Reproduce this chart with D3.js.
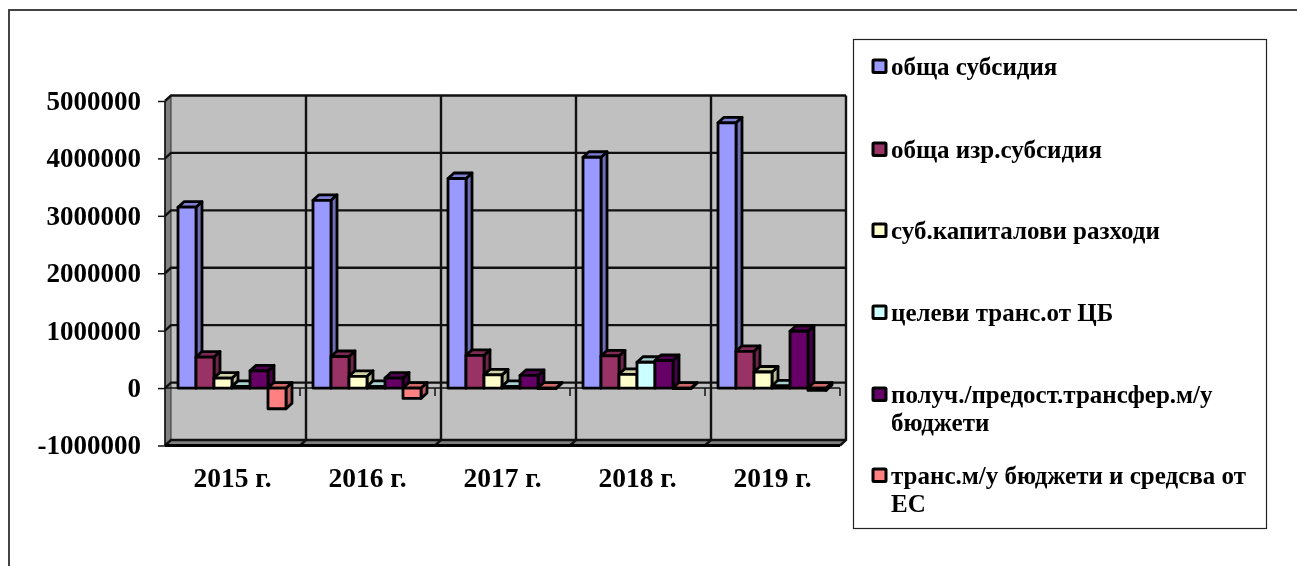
<!DOCTYPE html>
<html>
<head>
<meta charset="utf-8">
<script src="https://cdn.jsdelivr.net/npm/d3@7"></script>
<style>
  html, body { margin: 0; padding: 0; background: #fff; overflow: hidden; }
  text { font-family: "Liberation Serif", serif; font-weight: bold; fill: #000; }
  svg { filter: blur(0.35px); }
</style>
</head>
<body>
<script>
const years = ['2015 г.', '2016 г.', '2017 г.', '2018 г.', '2019 г.'];
const seriesNames = [
    ['обща субсидия'],
    ['обща изр.субсидия'],
    ['суб.капиталови разходи'],
    ['целеви транс.от ЦБ'],
    ['получ./предост.трансфер.м/у', 'бюджети'],
    ['транс.м/у бюджети и средсва от', 'ЕС']
];
const colors = ['#9999ff', '#993366', '#ffffcc', '#ccffff', '#660066', '#ff8080'];
const obshta = [3150000, 3270000, 3650000, 4020000, 4620000];
const izr = [540000, 550000, 570000, 560000, 640000];
const kapital = [175000, 205000, 230000, 240000, 280000];
const celevi = [30000, 30000, 30000, 450000, 40000];
const transfer = [300000, 175000, 220000, 480000, 990000];
const es = [-360000, -180000, -10000, -10000, -40000];
const allValues = [obshta, izr, kapital, celevi, transfer, es];
const yTicks = [-1000000, 0, 1000000, 2000000, 3000000, 4000000, 5000000];

const svg = d3.select('body').append('svg')
    .attr('width', 1297)
    .attr('height', 566)
    .style('display', 'block');

// outer chart frame
svg.append('path')
    .attr('d', 'M9,566V10H1297')
    .attr('fill', 'none')
    .attr('stroke', '#444')
    .attr('stroke-width', 2);

const dx = 6, dy = -5.5;   // depth of the 3d box

const x = d3.scaleBand().domain(years).range([165, 840]);
const y = d3.scaleLinear().domain([-1000000, 5000000]).range([445.5, 101]);
const inner = d3.scaleBand().domain(d3.range(6)).range([13, 121]);

const left = x.range()[0], right = x.range()[1];
const top5 = y(5000000), bottom = y(-1000000), zero = y(0);

// back wall
svg.append('rect')
    .attr('x', left + dx).attr('y', top5 + dy)
    .attr('width', right - left).attr('height', bottom - top5)
    .attr('fill', '#c0c0c0');
// side wall and floor
svg.append('polygon')
    .attr('points', [[left, top5], [left + dx, top5 + dy], [left + dx, bottom + dy], [left, bottom]].join(' '))
    .attr('fill', '#808080').attr('stroke', '#333').attr('stroke-width', 1);
svg.append('polygon')
    .attr('points', [[left, bottom], [left + dx, bottom + dy], [right + dx, bottom + dy], [right, bottom]].join(' '))
    .attr('fill', '#808080');

// horizontal gridlines on the back wall, with the piece on the side wall
const grid = svg.append('g').attr('stroke', '#111').attr('stroke-width', 2.4).attr('fill', 'none');
yTicks.forEach(t => {
    grid.append('path')
        .attr('d', `M${left},${y(t)}L${left + dx},${y(t) + dy}H${right + dx}`);
});
// vertical gridlines
x.domain().forEach((d, i) => {
    const gx = x(d) + x.bandwidth() + dx;
    grid.append('path')
        .attr('d', `M${gx},${top5 + dy}V${bottom + dy}L${gx - dx},${bottom}`);
});

// zero plane front edge and axis lines
svg.append('path')
    .attr('d', `M${left},${zero}H${right}`)
    .attr('stroke', '#111').attr('stroke-width', 1.5);
svg.append('path')
    .attr('d', `M${left},${bottom}H${right}`)
    .attr('stroke', '#000').attr('stroke-width', 3);
svg.append('path')
    .attr('d', `M${left},${top5}V${bottom}`)
    .attr('stroke', '#111').attr('stroke-width', 1.5);

// ticks on the zero line
years.forEach(d => {
    svg.append('line')
        .attr('x1', x(d) + x.bandwidth()).attr('x2', x(d) + x.bandwidth())
        .attr('y1', zero).attr('y2', zero + 8)
        .attr('stroke', '#111').attr('stroke-width', 1.5);
});

// y axis
const yAxis = svg.append('g')
    .attr('transform', `translate(${left},0)`)
    .call(d3.axisLeft(y).tickValues(yTicks).tickFormat(d => String(d)).tickSize(7).tickPadding(17));
yAxis.select('.domain').remove();
yAxis.selectAll('line').attr('stroke', '#111').attr('stroke-width', 1.5);
yAxis.selectAll('text').style('font-size', '27px').attr('fill', '#000').attr('dy', '0.31em');

// bars, left to right so the neighbours overlap like in the 3d view
years.forEach((yr, i) => {
    allValues.forEach((vals, s) => {
        const v = vals[i];
        const x0 = x(yr) + inner(s);
        const w = inner.bandwidth();
        const yTop = y(Math.max(v, 0));
        const yBot = y(Math.min(v, 0));
        const c = d3.color(colors[s]);
        const g = svg.append('g')
            .attr('stroke', '#000').attr('stroke-width', 2.8).attr('stroke-linejoin', 'round');
        // side face
        g.append('polygon')
            .attr('points', [[x0 + w, yTop], [x0 + w + dx, yTop + dy], [x0 + w + dx, yBot + dy], [x0 + w, yBot]].join(' '))
            .attr('fill', c.darker(0.9));
        // top face
        g.append('polygon')
            .attr('points', [[x0, yTop], [x0 + dx, yTop + dy], [x0 + w + dx, yTop + dy], [x0 + w, yTop]].join(' '))
            .attr('fill', c.darker(0.55));
        // front face
        g.append('rect')
            .attr('x', x0).attr('y', yTop)
            .attr('width', w).attr('height', yBot - yTop)
            .attr('fill', colors[s]);
    });
});

// category labels
svg.append('g').selectAll('text')
    .data(years)
    .enter().append('text')
    .attr('x', d => x(d) + x.bandwidth() / 2)
    .attr('y', 486.5)
    .attr('text-anchor', 'middle')
    .style('font-size', '27.5px')
    .text(d => d);

// legend
svg.append('rect')
    .attr('x', 853.5).attr('y', 39.5)
    .attr('width', 413).attr('height', 489)
    .attr('fill', '#fff').attr('stroke', '#222').attr('stroke-width', 1.2);

const legendBase = [75, 158, 239, 321, 403, 484];
seriesNames.forEach((lines, s) => {
    svg.append('rect')
        .attr('x', 873).attr('y', legendBase[s] - 15)
        .attr('width', 13).attr('height', 12.5)
        .attr('rx', 1)
        .attr('fill', colors[s]).attr('stroke', '#000').attr('stroke-width', 3);
    lines.forEach((t, k) => {
        svg.append('text')
            .attr('x', 891)
            .attr('y', legendBase[s] + k * 28)
            .style('font-size', '25px')
            .text(t);
    });
});
</script>
</body>
</html>
